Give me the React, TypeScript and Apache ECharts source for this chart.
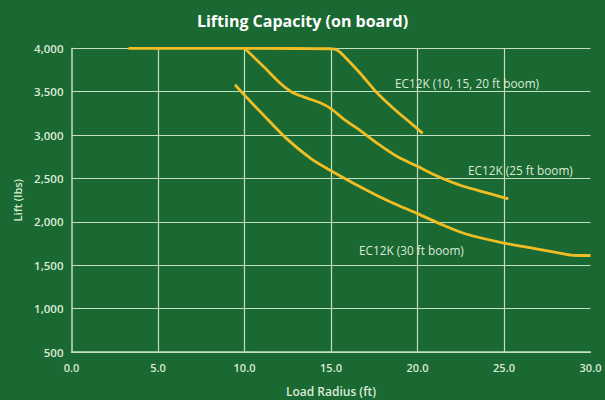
import React, { useEffect, useRef } from "react";
import * as echarts from "echarts";

const xTicks = [0, 5, 10, 15, 20, 25, 30];
const yTicks = [500, 1000, 1500, 2000, 2500, 3000, 3500, 4000];

const radius10to20 = [3.3, 10.0, 15.0, 15.35, 15.8, 16.7, 17.6, 18.6, 19.6, 20.3];
const lift10to20 = [4000, 4000, 3995, 3980, 3900, 3710, 3500, 3310, 3140, 3020];

const radius25 = [10.0, 11.1, 12.05, 12.7, 13.4, 14.4, 15.0, 15.7, 16.7, 17.6, 18.8, 20.0, 21.0, 21.7, 22.65, 23.8, 25.25];
const lift25 = [4000, 3790, 3600, 3500, 3440, 3370, 3305, 3190, 3050, 2915, 2755, 2640, 2540, 2480, 2410, 2345, 2265];

const radius30 = [9.45, 10.0, 11.1, 12.4, 13.8, 14.9, 16.3, 17.8, 19.0, 20.0, 21.5, 22.8, 25.0, 26.7, 28.0, 29.0, 30.0];
const lift30 = [3580, 3460, 3230, 2965, 2735, 2600, 2445, 2290, 2180, 2095, 1960, 1860, 1755, 1695, 1648, 1614, 1612];

const seriesNames = ["EC12K (10, 15, 20 ft boom)", "EC12K (25 ft boom)", "EC12K (30 ft boom)"];

const BG = "#1a6832";
const GRID = "#c2dec3";
const TEXT = "#dcebd8";
const LINE = "#f0be24";
const FONT = "'Open Sans', 'Noto Sans', sans-serif";

const zip = (xs: number[], ys: number[]) => xs.map((x, i) => [x, ys[i]]);

export default function App() {
  const ref = useRef<HTMLDivElement>(null);
  useEffect(() => {
    if (!ref.current) return;
    const chart = echarts.init(ref.current, undefined, { renderer: "svg" });
    const lineSeries = (name: string, xs: number[], ys: number[]) => ({
      name,
      type: "line",
      data: zip(xs, ys),
      smooth: 0.3,
      showSymbol: false,
      lineStyle: { color: LINE, width: 2.8 },
      z: 5,
    });
    const labelFont = `11.8px ${FONT}`;
    chart.setOption({
      animation: false,
      backgroundColor: BG,
      textStyle: { fontFamily: FONT },
      title: {
        text: "Lifting Capacity (on board)",
        left: "center",
        top: 8,
        textStyle: { color: "#ffffff", fontSize: 16, fontWeight: "bold", fontFamily: FONT },
      },
      grid: { left: 71.5, right: 14.5, top: 48.3, bottom: 48, containLabel: false, outerBoundsMode: "none" },
      xAxis: {
        type: "value",
        min: xTicks[0],
        max: xTicks[xTicks.length - 1],
        interval: 5,
        name: "Load Radius (ft)",
        nameLocation: "middle",
        nameGap: 33,
        nameTextStyle: { color: TEXT, fontSize: 12, fontWeight: 600, fontFamily: FONT },
        axisLine: { show: true, lineStyle: { color: GRID, width: 1.5 } },
        axisTick: { show: false },
        axisLabel: {
          color: TEXT,
          fontSize: 11,
          fontWeight: 600,
          margin: 10,
          formatter: (v: number) => v.toFixed(1),
          showMaxLabel: true,
          showMinLabel: true,
        },
        splitLine: { show: true, showMinLine: false, showMaxLine: false, lineStyle: { color: GRID, width: 1.2 } },
      },
      yAxis: {
        type: "value",
        min: yTicks[0],
        max: yTicks[yTicks.length - 1],
        interval: 500,
        name: "Lift (lbs)",
        nameLocation: "middle",
        nameGap: 46,
        nameRotate: 90,
        nameTextStyle: { color: TEXT, fontSize: 11, fontWeight: 600, fontFamily: FONT },
        axisLine: { show: true, lineStyle: { color: GRID, width: 1.5 } },
        axisTick: { show: false },
        axisLabel: {
          color: TEXT,
          fontSize: 11.5,
          fontWeight: 600,
          margin: 8,
          formatter: (v: number) => v.toLocaleString("en-US"),
        },
        splitLine: { show: true, lineStyle: { color: GRID, width: 1.2 } },
      },
      series: [
        lineSeries(seriesNames[0], radius10to20, lift10to20),
        lineSeries(seriesNames[1], radius25, lift25),
        lineSeries(seriesNames[2], radius30, lift30),
      ],
      graphic: [
        { type: "text", x: 395, y: 83, style: { text: seriesNames[0], fill: TEXT, font: labelFont, verticalAlign: "middle" }, z: 10 },
        { type: "text", x: 468, y: 170, style: { text: seriesNames[1], fill: TEXT, font: labelFont, verticalAlign: "middle" }, z: 10 },
        { type: "text", x: 359, y: 250, style: { text: seriesNames[2], fill: TEXT, font: labelFont, verticalAlign: "middle" }, z: 10 },
      ],
    });
    return () => chart.dispose();
  }, []);
  return <div ref={ref} style={{ position: "absolute", left: 0, top: 0, width: 605, height: 400 }} />;
}
